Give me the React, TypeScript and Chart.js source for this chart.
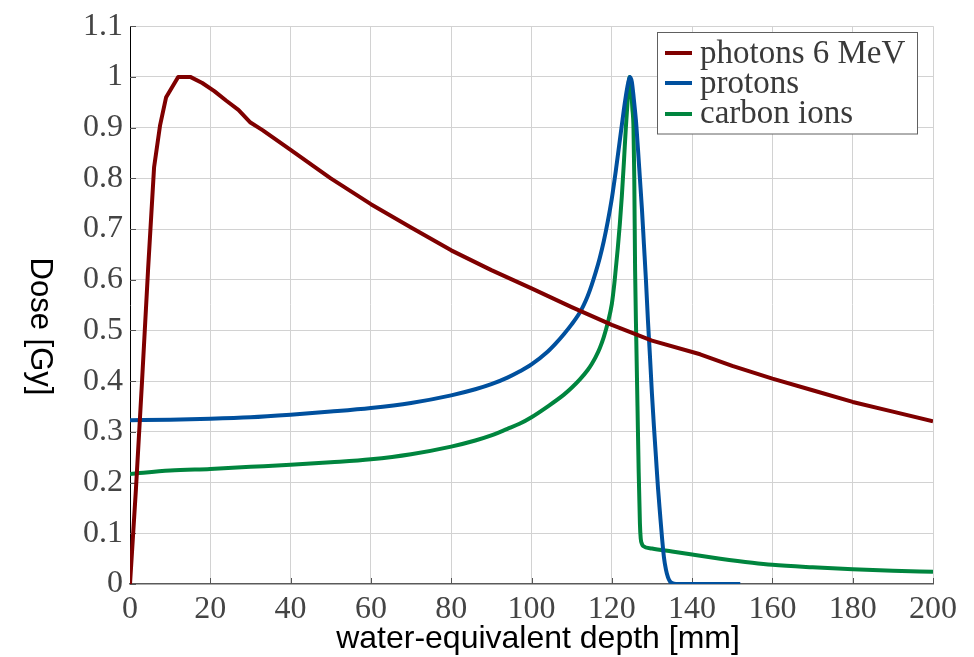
import React, { useEffect, useRef } from "react";
import { Chart, registerables } from "chart.js";

Chart.register(...registerables);

// ---- data ----
const photonDepth = [0, 1.5, 3, 4.5, 6, 7.5, 9, 12, 15, 18, 21, 24, 27, 30, 33, 40, 50, 60, 70, 80, 90, 100, 110, 120, 130, 142, 150, 160, 170, 180, 190, 200];
const photonDose = [0, 0.19, 0.4, 0.62, 0.822, 0.905, 0.96, 1.0, 1.0, 0.988, 0.972, 0.953, 0.935, 0.91, 0.895, 0.856, 0.8, 0.749, 0.703, 0.658, 0.619, 0.583, 0.546, 0.511, 0.48, 0.453, 0.43, 0.405, 0.382, 0.359, 0.34, 0.321];

const protonDepth = [0, 10, 20, 30, 40, 50, 60, 70, 80, 86, 90, 94, 97, 100, 104, 106, 108, 110, 112, 113, 114, 115, 116, 117, 118, 119, 120, 121, 122, 122.5, 123, 123.5, 124, 124.5, 125, 125.5, 126, 126.5, 127, 127.5, 128, 128.5, 129, 129.5, 130, 130.5, 131, 131.5, 132, 132.5, 133, 133.5, 134, 134.5, 135, 136, 140, 152];
const protonDose = [0.323, 0.324, 0.326, 0.329, 0.334, 0.34, 0.347, 0.357, 0.372, 0.384, 0.394, 0.407, 0.419, 0.433, 0.458, 0.474, 0.492, 0.512, 0.535, 0.55, 0.568, 0.59, 0.615, 0.643, 0.676, 0.715, 0.76, 0.815, 0.875, 0.905, 0.935, 0.962, 0.985, 1.0, 0.99, 0.955, 0.915, 0.86, 0.8, 0.74, 0.67, 0.6, 0.52, 0.45, 0.375, 0.31, 0.25, 0.19, 0.14, 0.092, 0.052, 0.028, 0.013, 0.005, 0.002, 0, 0, 0];

const carbonDepth = [0, 10, 20, 30, 40, 50, 60, 70, 80, 86, 90, 94, 97, 100, 104, 108, 110, 112, 114, 115, 116, 117, 118, 119, 120, 120.6, 121, 121.5, 122, 122.5, 123, 123.5, 124, 124.4, 124.8, 125.1, 125.4, 125.6, 125.8, 126.1, 126.4, 126.7, 127, 127.2, 127.5, 127.8, 130, 135, 140, 147, 155, 160, 170, 180, 190, 200];
const carbonDose = [0.217, 0.2236, 0.227, 0.231, 0.235, 0.24, 0.246, 0.256, 0.271, 0.283, 0.293, 0.306, 0.316, 0.329, 0.35, 0.373, 0.387, 0.403, 0.422, 0.434, 0.448, 0.465, 0.487, 0.515, 0.552, 0.59, 0.622, 0.663, 0.71, 0.765, 0.83, 0.9, 0.96, 1.0, 0.98, 0.94, 0.9, 0.8, 0.62, 0.48, 0.35, 0.22, 0.12, 0.09, 0.079, 0.075, 0.07, 0.064, 0.058, 0.05, 0.042, 0.038, 0.033, 0.029, 0.026, 0.024];

const xTicks = [0, 20, 40, 60, 80, 100, 120, 140, 160, 180, 200];
const yTicks = [0, 0.1, 0.2, 0.3, 0.4, 0.5, 0.6, 0.7, 0.8, 0.9, 1.0, 1.1];

const seriesLabels = ["photons 6 MeV", "protons", "carbon ions"];
const seriesColors = ["#7f0000", "#00509e", "#00853e"];

const xTitle = "water-equivalent depth [mm]";
const yTitle = "Dose [Gy]";

const TICK_FONT = '"Liberation Serif", "DejaVu Serif", serif';
const TITLE_FONT = '"Liberation Sans", Arial, sans-serif';

function toPoints(xs: number[], ys: number[]) {
  return xs.map((x, i) => ({ x, y: ys[i] }));
}

export default function App() {
  const ref = useRef<HTMLCanvasElement>(null);

  useEffect(() => {
    document.body.style.margin = "0";
    const canvas = ref.current;
    if (!canvas) return;

    const overlay = {
      id: "overlay",
      beforeDatasetsDraw(chart: any) {
        const { ctx, chartArea, scales } = chart;
        ctx.save();
        ctx.strokeStyle = "#555555";
        ctx.lineWidth = 1;
        ctx.beginPath();
        xTicks.forEach((v) => {
          const px = Math.round(scales.x.getPixelForValue(v)) + 0.5;
          ctx.moveTo(px, chartArea.bottom);
          ctx.lineTo(px, chartArea.bottom - 6);
        });
        yTicks.forEach((v) => {
          const py = Math.round(scales.y.getPixelForValue(v)) + 0.5;
          ctx.moveTo(chartArea.left, py);
          ctx.lineTo(chartArea.left + 6, py);
        });
        ctx.stroke();
        ctx.restore();
      },
      afterDraw(chart: any) {
        const { ctx } = chart;
        ctx.save();
        // legend box
        ctx.fillStyle = "#ffffff";
        ctx.fillRect(657.5, 32.5, 260, 101.5);
        ctx.strokeStyle = "#606060";
        ctx.lineWidth = 1;
        ctx.strokeRect(657.5, 32.5, 260, 101.5);
        const rows = [53, 83, 114];
        const baselines = [62.7, 92.5, 123.3];
        ctx.font = `33px ${TICK_FONT}`;
        ctx.textAlign = "left";
        ctx.textBaseline = "alphabetic";
        seriesLabels.forEach((lab, i) => {
          ctx.strokeStyle = seriesColors[i];
          ctx.lineWidth = 4;
          ctx.beginPath();
          ctx.moveTo(665, rows[i]);
          ctx.lineTo(692, rows[i]);
          ctx.stroke();
          ctx.fillStyle = "#3a3a3a";
          ctx.fillText(lab, 700, baselines[i]);
        });
        // axis titles
        ctx.fillStyle = "#000000";
        ctx.font = `32px ${TITLE_FONT}`;
        ctx.textAlign = "center";
        ctx.fillText(xTitle, 538, 648);
        ctx.translate(31, 326.5);
        ctx.rotate(Math.PI / 2);
        ctx.font = `31px ${TITLE_FONT}`;
        ctx.fillText(yTitle, 0, 0);
        ctx.restore();
      },
    };

    const gridColor = (c: any) => (c.tick && c.tick.value === 0 ? "rgba(0,0,0,0)" : "#d2d2d2");

    const base = { showLine: true, pointRadius: 0, borderWidth: 4, borderJoinStyle: "round", borderCapStyle: "butt" };

    const chart = new Chart(canvas, {
      type: "scatter",
      data: {
        datasets: [
          { ...base, label: seriesLabels[0], data: toPoints(photonDepth, photonDose), borderColor: seriesColors[0], backgroundColor: seriesColors[0], tension: 0 },
          { ...base, label: seriesLabels[1], data: toPoints(protonDepth, protonDose), borderColor: seriesColors[1], backgroundColor: seriesColors[1], cubicInterpolationMode: "monotone" },
          { ...base, label: seriesLabels[2], data: toPoints(carbonDepth, carbonDose), borderColor: seriesColors[2], backgroundColor: seriesColors[2], cubicInterpolationMode: "monotone" },
        ] as any,
      },
      options: {
        responsive: false,
        animation: false,
        devicePixelRatio: 1,
        layout: { padding: { top: 20, right: 41, left: 0, bottom: 0 } },
        plugins: { legend: { display: false }, tooltip: { enabled: false } },
        scales: {
          x: {
            type: "linear",
            min: 0,
            max: 200,
            afterBuildTicks: (s: any) => {
              s.ticks = xTicks.map((v) => ({ value: v }));
            },
            afterFit: (s: any) => {
              s.height = 73;
            },
            grid: { color: gridColor, drawTicks: false, lineWidth: 1 },
            border: { color: "#5a5a5a", width: 1.5 },
            ticks: {
              padding: 6,
              autoSkip: false,
              maxRotation: 0,
              color: "#444444",
              font: { family: TICK_FONT, size: 32 },
              callback: (v: any) => String(v),
            },
          },
          y: {
            type: "linear",
            min: 0,
            max: 1.1,
            afterBuildTicks: (s: any) => {
              s.ticks = yTicks.map((v) => ({ value: v }));
            },
            afterFit: (s: any) => {
              s.width = 130;
            },
            grid: { color: gridColor, drawTicks: false, lineWidth: 1 },
            border: { color: "#000000", width: 1 },
            ticks: {
              padding: 7,
              autoSkip: false,
              color: "#444444",
              font: { family: TICK_FONT, size: 32 },
              callback: (v: any) => String(Number(Number(v).toFixed(1))),
            },
          },
        },
      },
      plugins: [overlay],
    });

    return () => chart.destroy();
  }, []);

  return (
    <div style={{ width: 974, height: 657 }}>
      <canvas ref={ref} width={974} height={657} style={{ display: "block" }} />
    </div>
  );
}
